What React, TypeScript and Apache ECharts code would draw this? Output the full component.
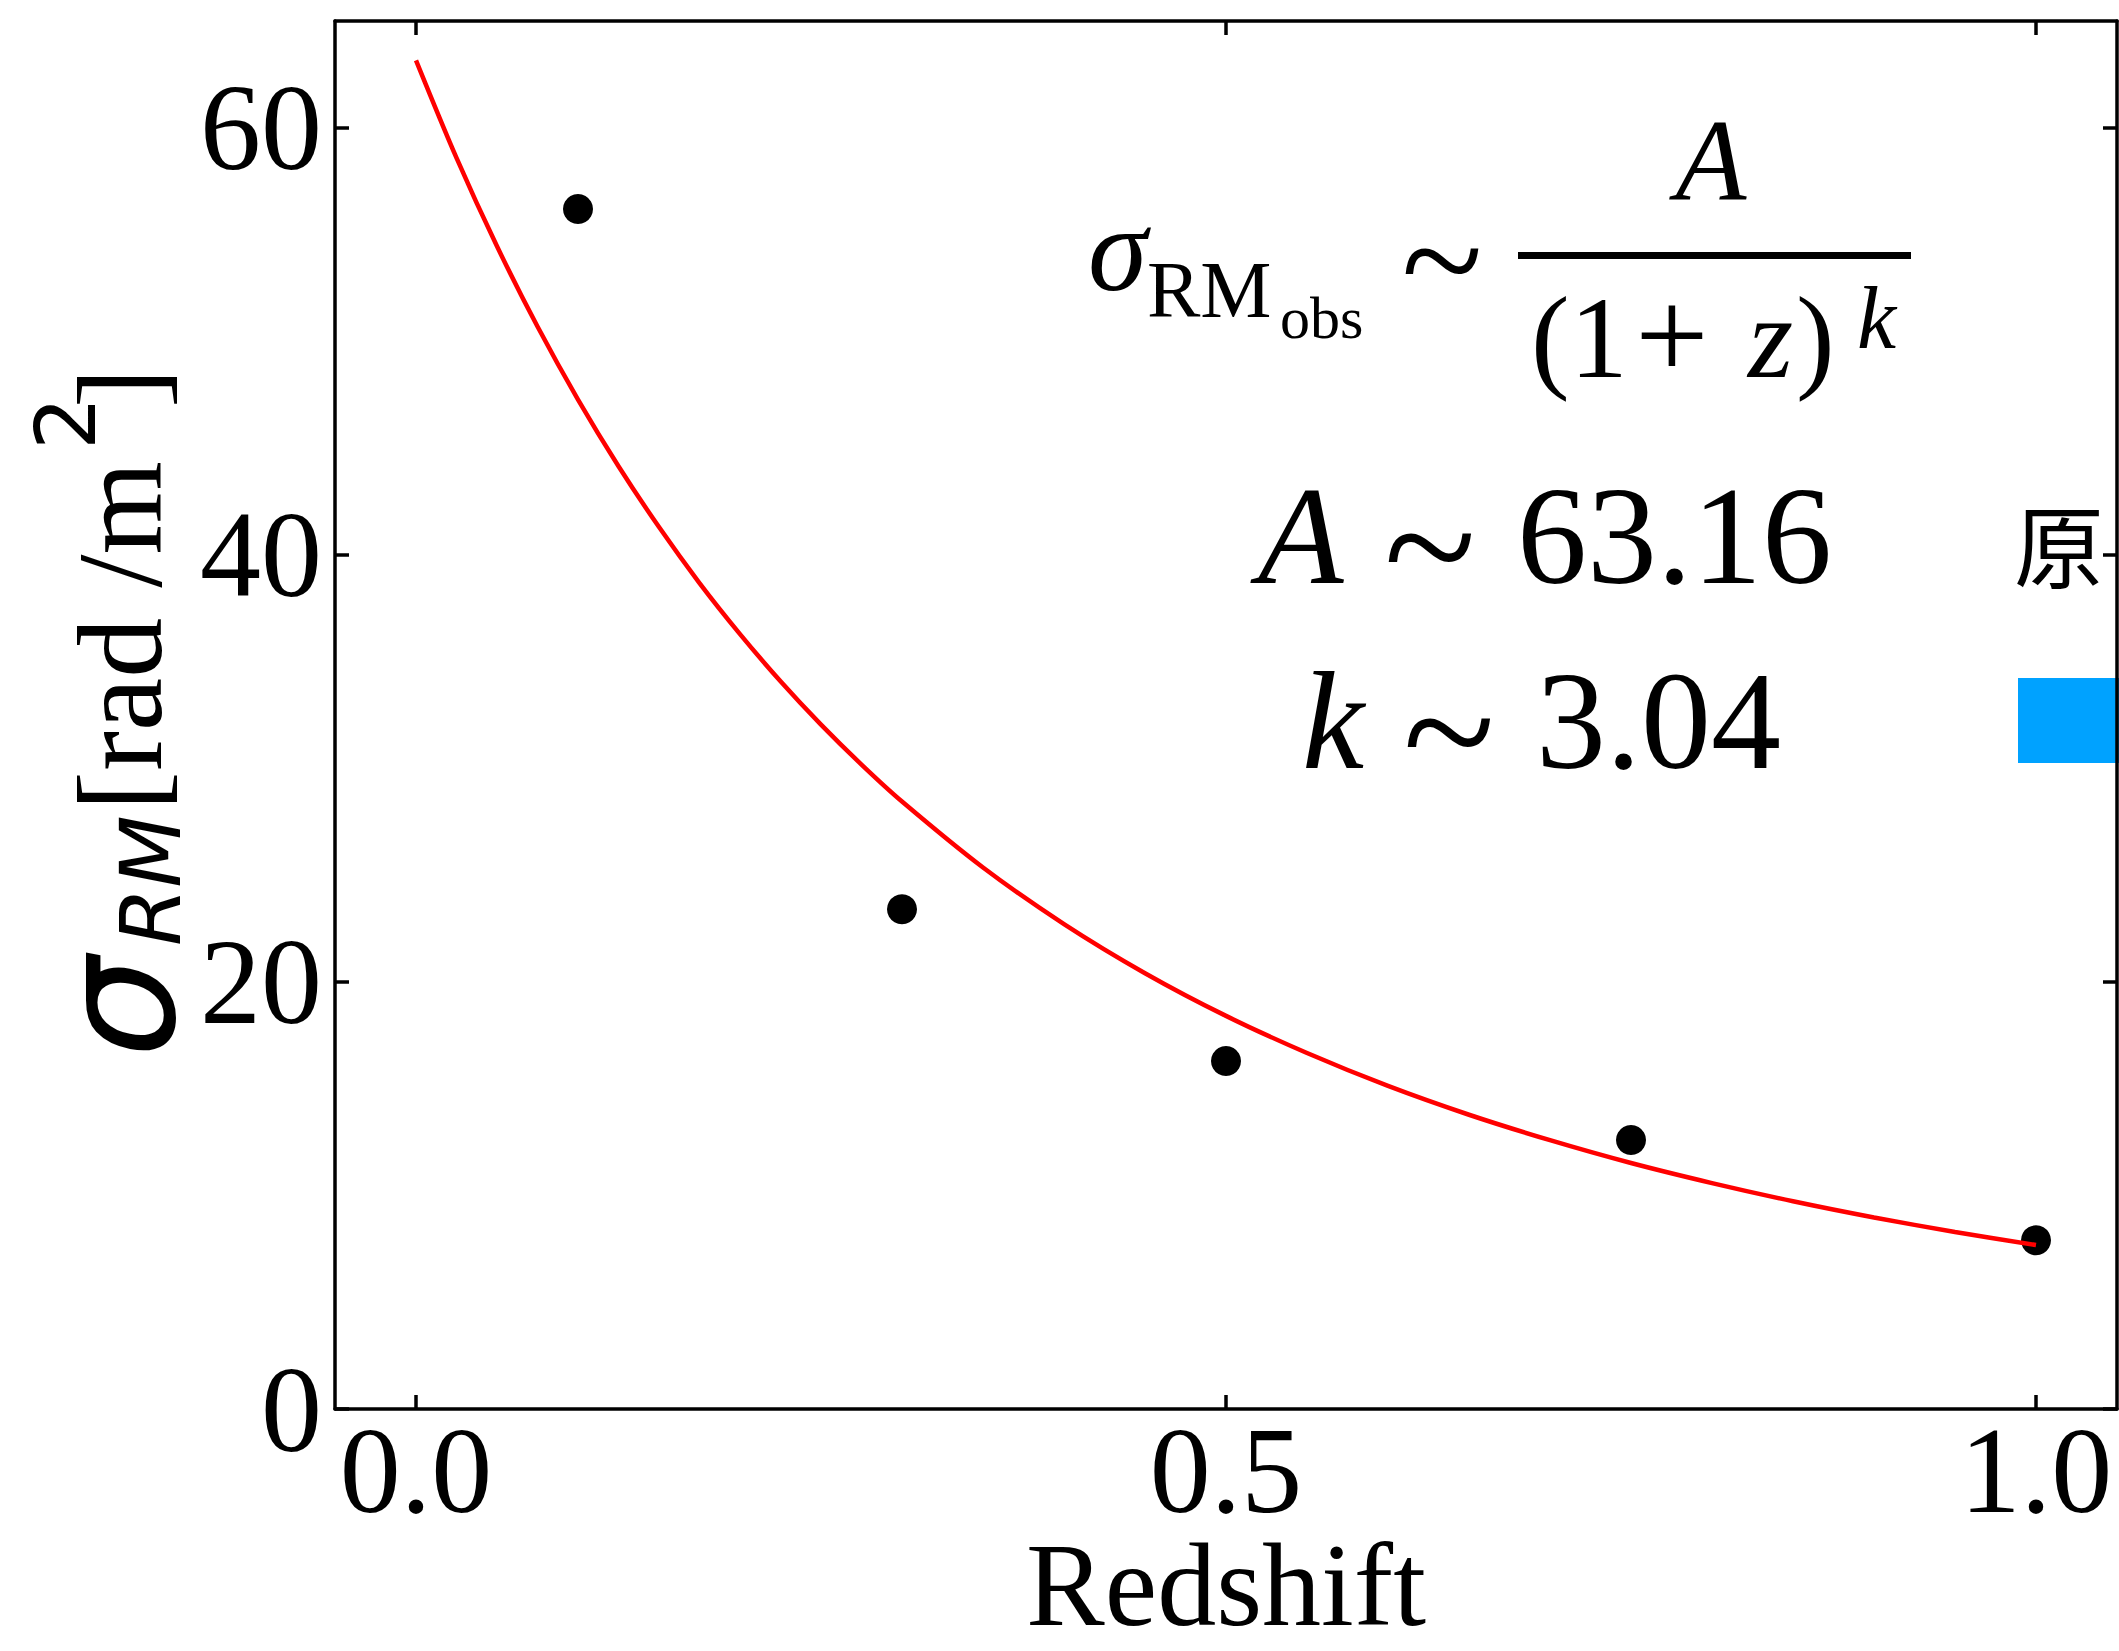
import React, { useEffect, useRef } from "react";
import * as echarts from "echarts";

// Observed data points (redshift, sigma_RM)
const redshift = [0.1, 0.3, 0.5, 0.75, 1.0];
const sigmaRM = [56.2, 23.4, 16.3, 12.6, 7.9];

// Fitted curve
const fitZ = [0, 0.025, 0.05, 0.075, 0.1, 0.125, 0.15, 0.175, 0.2, 0.225, 0.25, 0.275, 0.3, 0.35, 0.4, 0.45, 0.5, 0.55, 0.6, 0.65, 0.7, 0.75, 0.8, 0.85, 0.9, 0.95, 1.0];
const fitSigma = [63.16, 58.59, 54.45, 50.69, 47.27, 44.15, 41.3, 38.68, 36.29, 34.08, 32.05, 30.18, 28.45, 25.36, 22.71, 20.41, 18.41, 16.67, 15.13, 13.78, 12.59, 11.52, 10.58, 9.73, 8.97, 8.29, 7.68];

const xTicks = [0, 0.5, 1.0];
const yTicks = [0, 20, 40, 60];

export default function App() {
  const ref = useRef<HTMLDivElement>(null);
  useEffect(() => {
    const chart = echarts.init(ref.current!, null, { renderer: "svg" });
    const serif = '"Liberation Serif", "Times New Roman", serif';
    const sans = '"DejaVu Sans", sans-serif';
    const cjk = '"Noto Sans CJK SC", sans-serif';
    const mid = (baseline: number, size: number, k = 0.3375) => baseline - k * size;
    const txt = (x: number, y: number, text: string, size: number, opts: any = {}, extra: any = {}) => ({
      type: "text",
      x,
      y,
      silent: true,
      ...extra,
      style: {
        text,
        fontSize: size,
        fontFamily: serif,
        fill: "#000",
        textAlign: "left",
        textVerticalAlign: "middle",
        ...opts,
      },
    });

    const mkLine = () => ({ show: true, onZero: false, lineStyle: { color: "#000", width: 3.5 } });
    const mkTick = () => ({ show: true, inside: true, length: 14, lineStyle: { color: "#000", width: 3.5 } });

    const rot = { rotation: Math.PI / 2 };

    const graphic: any[] = [
      // formula sigma_RMobs ~ A/(1+z)^k
      txt(1088, mid(290, 120), "σ", 120, { fontStyle: "italic" }),
      txt(1147, mid(317, 80), "RM", 80),
      txt(1280, mid(338, 60), "obs", 60),
      txt(1442, 260, "~", 150, { textAlign: "center" }),
      { type: "rect", silent: true, shape: { x: 1518, y: 252, width: 393, height: 7 }, style: { fill: "#000" } },
      txt(1711, mid(200, 116), "A", 116, { fontStyle: "italic", textAlign: "center" }),
      txt(1531, mid(377, 116), "(1", 116),
      txt(1672, 334.6, "+", 130, { textAlign: "center" }),
      txt(1748, mid(377, 116), "z", 116, { fontStyle: "italic" }),
      txt(1796, mid(377, 116), ")", 116),
      txt(1857, mid(348, 88), "k", 88, { fontStyle: "italic" }),
      // A ~ 63.16
      txt(1258, mid(583, 140), "A", 140, { fontStyle: "italic" }),
      txt(1430, 547, "~", 170, { textAlign: "center" }),
      txt(1517, mid(583, 140), "63.16", 140),
      // k ~ 3.04
      txt(1302, mid(768, 140), "k", 140, { fontStyle: "italic" }),
      txt(1449, 732, "~", 170, { textAlign: "center" }),
      txt(1536, mid(768, 140), "3.04", 140),
      // cut-off legend at right edge
      txt(2014, 542, "原", 90, { fontFamily: cjk }),
      { type: "rect", silent: true, shape: { x: 2018, y: 678, width: 110, height: 85 }, style: { fill: "#00A2FF" } },
      // y axis title (rotated, reading upward)
      txt(174 - 0.346 * 160, 1058, "σ", 160, { fontFamily: sans, fontStyle: "italic" }, rot),
      txt(180 - 0.346 * 84, 946, "RM", 84, { fontFamily: sans, fontStyle: "italic" }, rot),
      txt(161 - 0.3375 * 120, 841, " [rad /m", 120, {}, rot),
      txt(95 - 0.346 * 84, 450, "2", 84, { fontFamily: sans }, rot),
      txt(161 - 0.3375 * 120, 408, "]", 120, {}, rot),
      // x axis title
      txt(1226, mid(1625, 118), "Redshift", 118, { textAlign: "center" }),
    ];

    chart.setOption({
      animation: false,
      backgroundColor: "#fff",
      grid: { left: 335, right: 2, top: 21, bottom: 242, containLabel: false, outerBoundsMode: "none" },
      xAxis: [
        {
          type: "value",
          position: "bottom",
          min: -0.05,
          max: 1.05,
          axisLine: mkLine(),
          splitLine: { show: false },
          axisTick: { ...mkTick(), customValues: xTicks },
          axisLabel: {
            show: true,
            customValues: xTicks,
            formatter: (v: number) => v.toFixed(1),
            fontFamily: serif,
            fontSize: 122,
            lineHeight: 90,
            color: "#000",
            margin: 16,
          },
        },
        {
          type: "value",
          position: "top",
          min: -0.05,
          max: 1.05,
          axisLine: mkLine(),
          splitLine: { show: false },
          axisTick: { ...mkTick(), customValues: xTicks },
          axisLabel: { show: false },
        },
      ],
      yAxis: [
        {
          type: "value",
          position: "left",
          min: 0,
          max: 65,
          axisLine: mkLine(),
          splitLine: { show: false },
          axisTick: { ...mkTick(), customValues: yTicks },
          axisLabel: {
            show: true,
            customValues: yTicks,
            formatter: (v: number) => String(v),
            fontFamily: serif,
            fontSize: 122,
            color: "#000",
            margin: 13,
          },
        },
        {
          type: "value",
          position: "right",
          min: 0,
          max: 65,
          axisLine: mkLine(),
          splitLine: { show: false },
          axisTick: { ...mkTick(), customValues: yTicks },
          axisLabel: { show: false },
        },
      ],
      series: [
        {
          type: "scatter",
          xAxisIndex: 0,
          yAxisIndex: 0,
          z: 2,
          symbol: "circle",
          symbolSize: 30,
          itemStyle: { color: "#000", opacity: 1 },
          data: redshift.map((z, i) => [z, sigmaRM[i]]),
        },
        {
          type: "line",
          xAxisIndex: 0,
          yAxisIndex: 0,
          z: 3,
          showSymbol: false,
          smooth: 0.3,
          lineStyle: { color: "#ff0000", width: 4.5 },
          data: fitZ.map((z, i) => [z, fitSigma[i]]),
        },
      ],
      graphic,
    });
    return () => chart.dispose();
  }, []);
  return (
    <div
      ref={ref}
      style={{ position: "fixed", left: 0, top: 0, width: 2119, height: 1651, background: "#fff" }}
    />
  );
}
